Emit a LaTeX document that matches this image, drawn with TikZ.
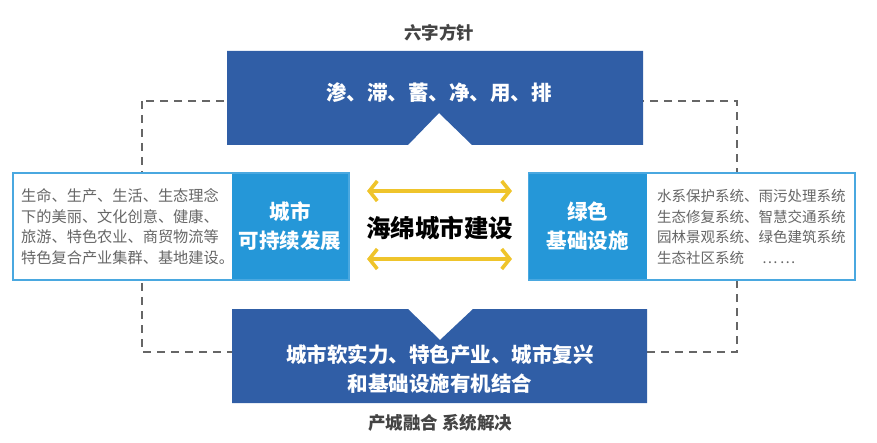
\documentclass[tikz,border=0pt]{standalone}
\usepackage{fontspec}
\newfontfamily\cjk{Noto Sans CJK SC}
\usetikzlibrary{arrows.meta}
\definecolor{darkblue}{HTML}{305EA6}
\definecolor{lightblue}{HTML}{2597D8}
\definecolor{borderblue}{HTML}{4AA8E0}
\definecolor{arrowyellow}{HTML}{EFC42B}
\definecolor{dashgray}{HTML}{666666}
\definecolor{titlegray}{HTML}{444444}
\definecolor{textgray}{HTML}{666666}
\tikzset{
  titletext/.style={font=\cjk\bfseries\fontsize{17.5}{20}\selectfont, text=titlegray, inner sep=0pt},
  whitebold/.style={font=\cjk\bfseries\fontsize{20.5}{29}\selectfont, text=white, align=center, inner sep=0pt},
  sidetext/.style={font=\cjk\fontsize{15}{20.7}\selectfont, text=textgray, align=left, inner sep=0pt},
  outerbox/.style={draw=borderblue, line width=1.6pt, fill=white, inner sep=0pt},
  bluepart/.style={fill=lightblue, draw=none, inner sep=0pt},
  dashframe/.style={draw=dashgray, line width=1.6pt, dash pattern=on 8pt off 6pt},
  yarrow/.style={draw=arrowyellow, line width=3.6pt, {Straight Barb[length=8pt,width=20pt]}-{Straight Barb[length=8pt,width=20pt]}},
}
\begin{document}
\begin{tikzpicture}[x=1pt,y=-1pt]
\useasboundingbox (0,0) rectangle (877,443);
% dashed frame
\draw[dashframe] (142,101) rectangle (737,352);
% top box with notch
\fill[darkblue] (227,51) -- (643,51) -- (643,145) -- (472,145) -- (439,113) -- (408,145) -- (227,145) -- cycle;
\node[whitebold] (top) at (439,93) {渗、滞、蓄、净、用、排};
\node[titletext] (toptitle) at (439,33) {六字方针};
% bottom box with notch
\fill[darkblue] (232,309) -- (408,309) -- (440,340) -- (473,309) -- (647,309) -- (647,403) -- (232,403) -- cycle;
\node[whitebold] (bottom) at (440,369) {城市软实力、特色产业、城市复兴\\和基础设施有机结合};
\node[titletext] (bottitle) at (440,423) {产城融合 系统解决};
% left box
\node[outerbox, minimum width=336pt, minimum height=107pt] (left) at (181,226.5) {};
\node[bluepart, minimum width=116pt, minimum height=105.4pt] (leftblue) at (290.2,226.5) {};
\node[whitebold] (lefttitle) at (leftblue) {城市\\可持续发展};
\node[sidetext, font=\cjk\fontsize{15.2}{20.7}\selectfont, anchor=west] (lefttext) at (21,226.5) {生命、生产、生活、生态理念\\下的美丽、文化创意、健康、\\旅游、特色农业、商贸物流等\\特色复合产业集群、基地建设。};
% right box
\node[outerbox, minimum width=326pt, minimum height=107pt] (right) at (692,226.5) {};
\node[bluepart, minimum width=118pt, minimum height=105.4pt] (rightblue) at (587.8,226.5) {};
\node[whitebold] (righttitle) at (rightblue) {绿色\\基础设施};
\node[sidetext, font=\cjk\fontsize{14.5}{20.7}\selectfont, anchor=west] (righttext) at (657,227) {水系保护系统、雨污处理系统\\生态修复系统、智慧交通系统\\园林景观系统、绿色建筑系统\\生态社区系统\hspace{18pt}…\,…};
% center
\node[font=\cjk\bfseries\fontsize{24.5}{28}\selectfont, text=black, inner sep=0pt] (center) at (439.5,228) {海绵城市建设};
\coordinate (a1l) at (367,191);
\coordinate (a1r) at (512,191);
\coordinate (a2l) at (367,259);
\coordinate (a2r) at (512,259);
\draw[yarrow] (a1l) -- (a1r);
\draw[yarrow] (a2l) -- (a2r);
\end{tikzpicture}
\end{document}
